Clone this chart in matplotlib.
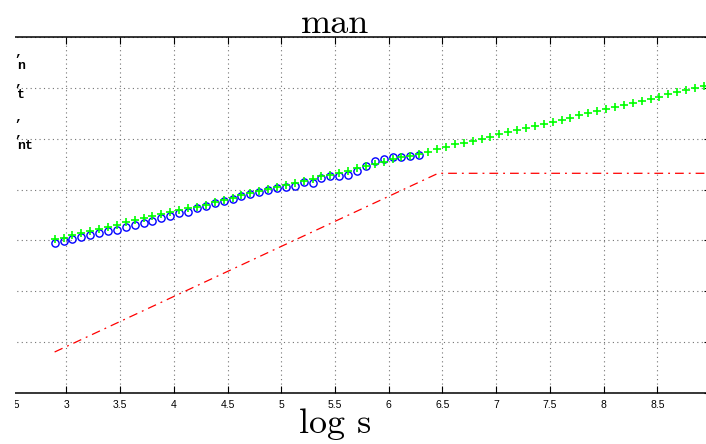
import numpy as np
import matplotlib
matplotlib.use("Agg")
import matplotlib.pyplot as plt
from matplotlib.patches import Rectangle

# ---- data ----
x_all = [2.890, 2.973, 3.056, 3.138, 3.221, 3.304, 3.387, 3.470, 3.552, 3.635,
         3.718, 3.801, 3.884, 3.966, 4.049, 4.132, 4.215, 4.298, 4.380, 4.463,
         4.546, 4.629, 4.712, 4.794, 4.877, 4.960, 5.043, 5.126, 5.208, 5.291,
         5.374, 5.457, 5.540, 5.622, 5.705, 5.788, 5.871, 5.954, 6.036, 6.119,
         6.202, 6.285, 6.368, 6.450, 6.533, 6.616, 6.699, 6.782, 6.864, 6.947,
         7.030, 7.113, 7.196, 7.278, 7.361, 7.444, 7.527, 7.610, 7.692, 7.775,
         7.858, 7.941, 8.024, 8.106, 8.189, 8.272, 8.355, 8.438, 8.520, 8.603,
         8.686, 8.769, 8.852, 8.934]

green_y = [3.022, 3.054, 3.107, 3.152, 3.191, 3.231, 3.270, 3.309, 3.356, 3.395,
           3.435, 3.474, 3.513, 3.559, 3.598, 3.631, 3.663, 3.703, 3.749, 3.795,
           3.841, 3.887, 3.926, 3.972, 4.005, 4.044, 4.083, 4.123, 4.168, 4.208,
           4.260, 4.293, 4.332, 4.371, 4.418, 4.463, 4.503, 4.548, 4.594, 4.640,
           4.665, 4.690, 4.740, 4.798, 4.843, 4.889, 4.922, 4.961, 5.000, 5.040,
           5.092, 5.132, 5.165, 5.210, 5.250, 5.295, 5.334, 5.374, 5.413, 5.460,
           5.499, 5.539, 5.578, 5.617, 5.663, 5.708, 5.747, 5.787, 5.826, 5.872,
           5.912, 5.951, 5.991, 6.036]

blue_y = [2.955, 2.995, 3.034, 3.073, 3.113, 3.146, 3.179, 3.211, 3.257, 3.296,
          3.342, 3.388, 3.441, 3.473, 3.545, 3.565, 3.631, 3.683, 3.736, 3.782,
          3.821, 3.880, 3.913, 3.958, 3.991, 4.037, 4.056, 4.070, 4.155, 4.135,
          4.221, 4.267, 4.273, 4.286, 4.365, 4.463, 4.562, 4.594, 4.634, 4.647,
          4.660, 4.686]

red_x = [2.89, 6.46, 8.94]
red_y = [0.806, 4.32, 4.32]

xticks = [2.0, 2.5, 3.0, 3.5, 4.0, 4.5, 5.0, 5.5, 6.0, 6.5, 7.0, 7.5, 8.0, 8.5, 9.0]
xtick_labels = ['', '2.5', '3', '3.5', '4', '4.5', '5', '5.5', '6', '6.5', '7', '7.5', '8', '8.5', '']
yticks = [0, 1, 2, 3, 4, 5, 6, 7]

left_fragments = [(',', 14, 53), ('n', 17, 66), (',', 14, 83), ('t', 17, 95),
                  (',', 14, 118), (',', 14, 134), ('nt', 17, 146)]

# ---- figure ----
W, H = 706, 444
fig = plt.figure(figsize=(W / 100, H / 100), dpi=100)
ax = fig.add_axes([-41 / W, (H - 393) / H, 752 / W, 356 / H])

n_blue = len(blue_y)
ax.plot(red_x, red_y, color='red', linewidth=0.9, dashes=[7, 4, 1.5, 4])
ax.plot(x_all[:n_blue], blue_y, linestyle='none', marker='o', markersize=5.2,
        markerfacecolor='none', markeredgecolor='blue', markeredgewidth=1.0)
ax.plot(x_all, green_y, linestyle='none', marker='+', markersize=6,
        color=(0, 1, 0), markeredgewidth=1.2)

ax.set_xlim(2.0, 9.0)
ax.set_ylim(0, 7)
ax.set_xticks(xticks)
ax.set_xticklabels(xtick_labels, fontfamily='Liberation Sans', fontsize=7.5)
ax.set_yticks(yticks)
ax.set_yticklabels([])
ax.grid(True, linestyle=(0, (1, 3)), color='0.45', linewidth=0.8)
ax.tick_params(axis='x', direction='in', top=True, bottom=True, length=5,
               width=0.8, pad=5)
ax.tick_params(axis='y', direction='in', left=True, right=True, length=5,
               width=0.8)
for side in ['top', 'bottom']:
    ax.spines[side].set_linewidth(1.1)
ax.spines['left'].set_visible(False)
ax.spines['right'].set_linewidth(1.1)

# title and xlabel in Computer Modern
fig.text(335 / W, (H - 33) / H, 'man', family='cmr10', fontsize=26,
         ha='center', va='baseline')
fig.text(335 / W, (H - 433) / H, 'log s', family='cmr10', fontsize=26,
         ha='center', va='baseline')

# white strip on the left (cropped region)
fig.patches.append(Rectangle((0, 0), 15 / W, 1, transform=fig.transFigure,
                             facecolor='white', edgecolor='none', zorder=10))
for txt, px, py in left_fragments:
    fig.text(px / W, (H - py) / H, txt, family='Liberation Mono',
             fontweight='bold', fontsize=9.5, ha='left', va='center', zorder=11)

fig.savefig('out.png', dpi=100)
